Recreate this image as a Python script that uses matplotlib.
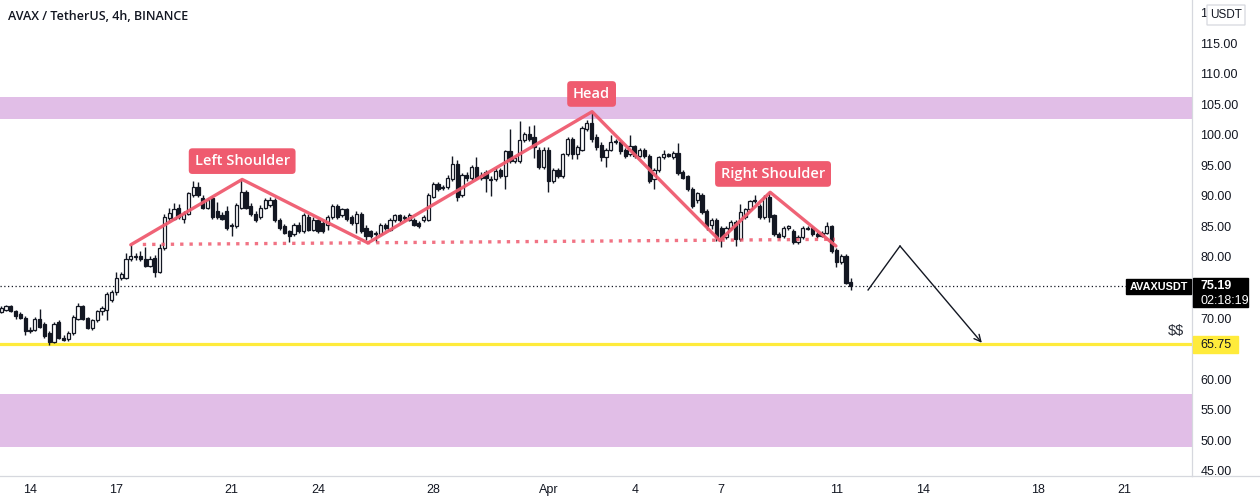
import numpy as np
import matplotlib
matplotlib.use("Agg")
import matplotlib.pyplot as plt
from matplotlib.patches import Rectangle, FancyBboxPatch
from matplotlib.transforms import blended_transform_factory

# ---------------- data (4h candles, index 0 = Mar 13 00:00) ----------------
opens = [71.0, 71.4, 71.9, 71.2, 70.7, 70.0, 67.9, 68.0, 69.9, 69.1,
         67.6, 66.1, 69.3, 66.8, 66.5, 67.5, 69.8, 71.9, 70.0, 68.3,
         69.6, 71.1, 71.4, 73.0, 74.2, 76.5, 76.6, 79.6, 80.0, 80.1,
         79.7, 78.6, 79.9, 77.6, 81.5, 86.4, 86.2, 88.1, 86.2, 87.1,
         90.2, 91.4, 89.7, 88.1, 89.6, 87.5, 86.8, 87.5, 85.3, 85.0,
         88.1, 90.6, 88.4, 87.1, 86.5, 88.1, 88.5, 89.3, 86.0, 85.0,
         84.2, 83.7, 85.3, 84.3, 86.6, 84.5, 86.0, 85.6, 85.3, 86.5,
         88.3, 86.8, 87.8, 86.6, 85.6, 87.1, 84.8, 84.2, 83.7, 83.8,
         85.3, 84.5, 86.1, 86.8, 86.4, 86.1, 86.1, 85.6, 86.1, 86.1,
         89.9, 91.9, 91.3, 91.4, 92.8, 95.3, 90.2, 93.5, 92.9, 94.7,
         93.0, 93.9, 92.8, 92.7, 94.2, 93.2, 97.3, 95.7, 95.7, 99.1,
         100.1, 99.6, 97.6, 94.7, 97.6, 92.4, 94.3, 93.2, 96.8, 99.3,
         96.9, 97.6, 100.9, 102.0, 99.6, 98.4, 96.3, 97.6, 98.9, 98.8,
         97.6, 96.8, 98.1, 96.6, 97.5, 96.5, 92.7, 94.3, 96.3, 96.8,
         96.3, 97.0, 93.9, 93.2, 91.2, 89.3, 90.2, 87.5, 85.3, 86.1,
         84.7, 83.2, 84.8, 85.8, 82.9, 86.6, 87.8, 89.1, 88.3, 86.6,
         89.8, 86.8, 83.8, 83.4, 84.7, 84.3, 82.5, 83.3, 84.6, 84.7,
         83.8, 83.5, 84.0, 85.0, 81.2, 79.1, 80.2, 75.9]
highs = [72.0, 72.1, 72.2, 71.4, 71.0, 70.3, 68.5, 70.2, 71.5, 69.4,
         67.9, 69.4, 69.6, 67.2, 67.8, 70.5, 72.4, 72.2, 70.2, 69.8,
         71.3, 72.0, 74.2, 74.6, 77.6, 77.6, 80.7, 81.9, 80.6, 81.0,
         81.7, 80.2, 80.3, 82.1, 87.0, 88.1, 88.8, 88.6, 87.5, 90.7,
         92.5, 92.2, 90.1, 89.6, 90.0, 89.0, 87.3, 88.3, 85.6, 88.8,
         92.7, 91.0, 88.8, 87.5, 88.5, 89.6, 89.9, 89.6, 86.4, 85.4,
         84.5, 85.6, 85.7, 87.2, 87.0, 86.5, 86.3, 86.0, 86.8, 88.6,
         88.6, 88.1, 88.1, 86.9, 87.5, 87.4, 85.2, 84.5, 84.3, 85.5,
         85.6, 86.4, 87.1, 87.1, 86.8, 87.2, 86.4, 85.9, 86.9, 90.4,
         92.3, 92.3, 91.8, 93.4, 96.5, 95.9, 93.8, 94.0, 95.0, 96.4,
         93.9, 94.3, 93.3, 94.5, 94.6, 97.6, 100.9, 96.6, 102.2, 100.5,
         101.5, 101.6, 98.0, 98.0, 98.0, 94.6, 94.6, 97.1, 99.6, 99.6,
         98.3, 101.4, 102.5, 103.8, 100.2, 98.8, 97.9, 100.0, 99.3, 99.2,
         97.9, 100.0, 98.4, 97.8, 97.8, 96.8, 94.6, 96.6, 97.6, 97.0,
         97.3, 98.6, 94.3, 93.5, 91.5, 90.7, 90.5, 87.8, 86.4, 86.4,
         85.0, 85.1, 86.1, 86.1, 88.7, 88.1, 89.4, 90.1, 88.6, 90.1,
         90.6, 87.1, 84.1, 85.0, 85.3, 84.6, 83.6, 85.0, 85.0, 85.0,
         84.1, 84.3, 85.7, 85.3, 81.5, 80.5, 80.5, 76.6]
lows = [70.8, 71.1, 71.0, 69.8, 69.8, 67.3, 67.6, 67.8, 68.4, 66.8,
        65.6, 65.9, 66.5, 66.2, 66.2, 67.3, 69.6, 69.6, 68.2, 68.1,
        69.4, 70.5, 69.6, 72.7, 73.8, 76.2, 76.4, 79.3, 79.5, 79.3,
        78.4, 78.3, 76.8, 77.3, 81.2, 85.9, 86.0, 86.2, 85.6, 86.8,
        89.9, 89.9, 87.8, 87.8, 86.2, 86.2, 86.0, 84.5, 83.4, 84.8,
        87.8, 87.8, 86.7, 85.8, 86.2, 87.8, 88.2, 85.8, 84.5, 83.7,
        82.4, 83.4, 84.0, 84.0, 84.2, 84.2, 83.9, 83.9, 84.4, 86.2,
        86.3, 86.5, 85.9, 85.3, 84.0, 83.9, 82.8, 83.1, 82.4, 83.6,
        84.4, 84.3, 85.8, 85.8, 86.0, 85.9, 85.0, 84.7, 85.8, 85.9,
        89.6, 90.8, 90.9, 91.1, 92.5, 89.1, 89.9, 92.5, 92.6, 92.7,
        92.6, 90.6, 90.0, 92.4, 92.9, 91.2, 95.4, 95.4, 95.4, 98.8,
        99.0, 96.2, 94.4, 94.4, 90.6, 92.1, 92.9, 92.9, 96.5, 96.0,
        96.0, 97.3, 100.6, 98.8, 97.6, 95.8, 94.8, 97.3, 98.5, 96.9,
        96.2, 96.5, 96.2, 96.3, 96.2, 92.1, 91.1, 94.0, 96.0, 96.3,
        96.0, 93.4, 92.7, 90.8, 88.0, 88.9, 87.0, 84.4, 84.6, 82.6,
        81.6, 82.9, 84.5, 81.8, 82.6, 86.3, 87.5, 88.8, 86.3, 86.3,
        85.8, 83.5, 82.9, 83.1, 84.4, 82.2, 82.2, 83.0, 84.4, 83.4,
        83.1, 83.2, 83.8, 80.6, 78.4, 78.8, 75.5, 74.6]
closes = [71.6, 71.9, 71.2, 70.4, 70.0, 67.8, 68.0, 69.9, 68.6, 67.1,
          66.0, 69.1, 66.8, 66.4, 67.5, 70.2, 71.9, 69.8, 68.4, 69.6,
          71.1, 71.6, 73.9, 74.3, 76.6, 77.2, 79.6, 80.1, 80.1, 79.6,
          78.6, 79.6, 77.6, 81.4, 86.6, 87.2, 87.8, 86.5, 87.1, 90.4,
          91.4, 90.2, 88.1, 89.3, 86.5, 86.5, 86.2, 84.8, 85.1, 88.5,
          90.6, 88.1, 87.0, 86.1, 88.1, 89.3, 89.4, 86.1, 84.8, 84.0,
          83.4, 85.3, 84.3, 86.8, 84.5, 86.1, 84.2, 84.2, 86.5, 88.3,
          86.6, 87.8, 86.3, 85.6, 87.1, 84.2, 83.5, 83.4, 83.9, 85.2,
          84.7, 86.1, 86.8, 86.1, 86.5, 86.8, 85.3, 85.0, 86.6, 90.1,
          91.9, 91.1, 91.4, 93.0, 95.3, 89.8, 93.4, 92.9, 94.7, 93.0,
          93.5, 92.9, 92.6, 94.1, 93.2, 97.3, 95.7, 96.2, 99.1, 100.1,
          99.3, 98.0, 94.7, 97.6, 92.4, 94.3, 93.2, 96.8, 99.3, 96.8,
          98.0, 101.1, 101.9, 99.3, 98.0, 96.3, 97.6, 98.9, 98.8, 97.3,
          96.5, 98.1, 96.5, 97.5, 96.5, 92.4, 94.3, 96.3, 96.8, 96.6,
          97.0, 93.7, 93.0, 91.1, 88.3, 90.4, 87.3, 85.0, 86.1, 83.2,
          83.0, 84.8, 85.8, 82.9, 87.3, 87.8, 89.1, 89.4, 86.6, 89.8,
          86.6, 83.8, 83.2, 84.7, 85.0, 82.5, 83.3, 84.7, 84.7, 83.7,
          83.4, 84.0, 85.0, 80.9, 79.1, 80.2, 75.8, 75.19]

date_ticks = [6, 24, 48, 66, 90, 114, 132, 150, 174, 192, 216, 234]
date_labels = ["14", "17", "21", "24", "28", "Apr", "4", "7", "11", "14", "18", "21"]
# 65 and 75 are hidden behind the price labels in the reference
price_ticks = [45, 50, 55, 60, 70, 80, 85, 90, 95, 100, 105, 110, 115, 120]

# chart pattern annotations (candle index, price)
pattern_x = [27.0, 50.2, 76.4, 123.1, 149.7, 160.2, 173.9]
pattern_y = [82.0, 92.7, 82.3, 103.8, 82.7, 90.6, 81.8]
neck_x = [29.5, 173.7]
neck_y = [82.05, 82.9]
proj_x = [180.6, 187.25, 204.3]
proj_y = [74.6, 81.8, 65.95]
zone_high = (102.6, 106.2)
zone_low = (48.9, 57.6)
target_price = 65.75
last_price = 75.19
labels = [("Left Shoulder", 50.2, 95.7), ("Head", 123.0, 106.7), ("Right Shoulder", 160.8, 93.6)]

# ---------------- figure ----------------
W, H = 1260, 504
fig = plt.figure(figsize=(W / 100, H / 100), dpi=100)
axR = 1192
axB = 476
ax = fig.add_axes([0, 1 - axB / H, axR / W, axB / H])
ax.set_facecolor("white")

ppu = 6.106  # px per price unit
ybot = 45 - (axB - 470.7) / ppu
ytop = 45 + 470.7 / ppu
ax.set_ylim(ybot, ytop)
ax.set_xlim(-0.25, (axR - 1.2) / 4.8)

ink = "#131722"
red = "#ef5b6f"
axfont = "Liberation Sans"

# zones
ax.axhspan(*zone_high, color="#e1bee7", zorder=0, lw=0)
ax.axhspan(*zone_low, color="#e1bee7", zorder=0, lw=0)
ax.axhline(target_price, color="#ffeb3b", lw=2.3, zorder=1)
ax.axhline(last_price, color=ink, lw=0.9, ls=(0, (1, 2)), zorder=1)

# candles
O = np.array(opens); Hh = np.array(highs); L = np.array(lows); C = np.array(closes)
idx = np.arange(len(C))
up = C >= O
bottoms = np.minimum(O, C)
heights = np.maximum(np.abs(C - O), 0.18)
ax.vlines(idx, L, Hh, color=ink, lw=1.0, zorder=2)
ax.bar(idx[up], heights[up], bottom=bottoms[up], width=0.7, color="white",
       edgecolor=ink, linewidth=0.9, zorder=3)
ax.bar(idx[~up], heights[~up], bottom=bottoms[~up], width=0.7, color=ink,
       edgecolor=ink, linewidth=0.9, zorder=3)

# pattern
ax.plot(pattern_x, pattern_y, color=red, lw=2.4, alpha=0.95, zorder=4,
        solid_capstyle="round", solid_joinstyle="round")
ax.plot(neck_x, neck_y, color=red, lw=2.4, ls=(0, (1, 1.8)), alpha=0.85, zorder=4)
ax.plot(proj_x[:2], proj_y[:2], color=ink, lw=1.0, zorder=4)
ax.annotate("", xy=(proj_x[2], proj_y[2]), xytext=(proj_x[1], proj_y[1]),
            arrowprops=dict(arrowstyle="->", color=ink, lw=1.0,
                            mutation_scale=12, shrinkA=0, shrinkB=0), zorder=4)

for txt, lx, ly in labels:
    ax.text(lx, ly, txt, ha="center", va="center", color="white", fontsize=10.5,
            family="Open Sans", weight="semibold", zorder=6,
            bbox=dict(boxstyle="round,pad=0.4,rounding_size=0.25", fc=red, ec="none"))

def py(ypx):
    return 45 + (470.7 - ypx) / ppu

bt = blended_transform_factory(ax.transAxes, ax.transData)
def fx(xpx):
    return xpx / axR

ax.text(fx(1176), py(331), r"\$\$", transform=bt, ha="center", va="center",
        color="#2a2e39", fontsize=10.5, family=axfont, zorder=6)

# axes styling
for s in ["top", "left"]:
    ax.spines[s].set_visible(False)
for s in ["right", "bottom"]:
    ax.spines[s].set_color("#d6d8de")
    ax.spines[s].set_linewidth(0.9)
ax.yaxis.tick_right()
ax.set_yticks(price_ticks)
ax.set_yticklabels([f"{v:.2f}" for v in price_ticks])
ax.tick_params(axis="y", length=0, pad=6, labelsize=9, labelcolor=ink)
ax.set_xticks(date_ticks)
ax.set_xticklabels(date_labels)
ax.tick_params(axis="x", length=0, pad=6, labelsize=9, labelcolor=ink)
for t in ax.get_xticklabels() + ax.get_yticklabels():
    t.set_family(axfont)

# bottom border continues under the price scale
fig.add_artist(plt.Line2D([axR / W, 1], [1 - axB / H, 1 - axB / H],
                          color="#d6d8de", lw=0.9))

# last price box
ax.add_patch(Rectangle((fx(1193), py(307)), fx(1248) - fx(1193), py(278) - py(307),
                       transform=bt, color="black", clip_on=False, zorder=7))
ax.text(fx(1200), py(286), "75.19", transform=bt, color="white", fontsize=9,
        weight="bold", family=axfont, va="center", ha="left", clip_on=False, zorder=8)
ax.text(fx(1200), py(300.5), "02:18:19", transform=bt, color="white", fontsize=9,
        family=axfont, va="center", ha="left", clip_on=False, zorder=8)
# symbol box
ax.add_patch(Rectangle((fx(1126), py(293.5)), fx(1191) - fx(1126), py(279) - py(293.5),
                       transform=bt, color="black", clip_on=False, zorder=7))
ax.text(fx(1158.5), py(286.5), "AVAXUSDT", transform=bt, color="white", fontsize=7.8,
        weight="bold", family=axfont, va="center", ha="center", clip_on=False, zorder=8)
# target box
ax.add_patch(Rectangle((fx(1193), py(353)), fx(1238) - fx(1193), py(336) - py(353),
                       transform=bt, color="#ffeb3b", clip_on=False, zorder=7))
ax.text(fx(1200), py(345), "65.75", transform=bt, color=ink, fontsize=9,
        family=axfont, va="center", ha="left", clip_on=False, zorder=8)
# currency box
ax.add_patch(FancyBboxPatch((fx(1207), py(25)), fx(1245) - fx(1207), py(5) - py(25),
                            boxstyle="round,pad=0,rounding_size=0.004", transform=bt,
                            fc="white", ec="#d6d8de", lw=0.9, clip_on=False, zorder=7,
                            mutation_aspect=1))
ax.text(fx(1226), py(15), "USDT", transform=bt, color=ink, fontsize=8.5,
        family=axfont, va="center", ha="center", clip_on=False, zorder=8)

# title
fig.text(8 / W, 1 - 16 / H, "AVAX / TetherUS, 4h, BINANCE", color=ink, fontsize=9,
         family="Open Sans", weight="semibold", va="center", ha="left")

fig.savefig("out.png", dpi=100, facecolor="white")
